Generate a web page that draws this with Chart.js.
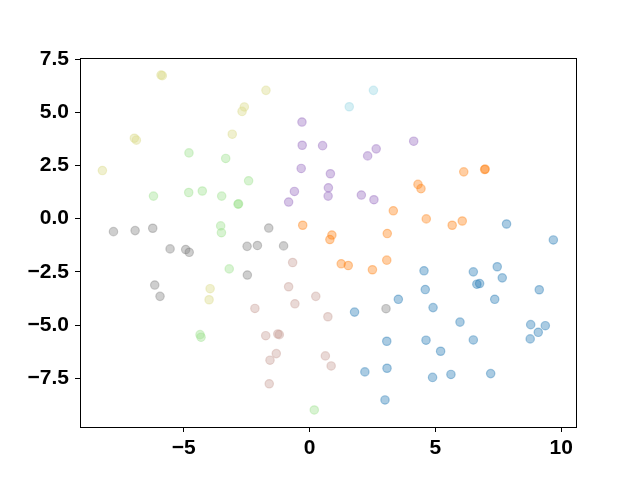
<!DOCTYPE html>
<html>
<head>
<meta charset="utf-8">
<script src="https://cdn.jsdelivr.net/npm/chart.js@4.4.1/dist/chart.umd.min.js"></script>
<style>
  html, body { margin: 0; padding: 0; background: #fff; }
  #wrap { width: 640px; height: 480px; }
</style>
</head>
<body>
<div id="wrap"><canvas id="chart" width="640" height="480"></canvas></div>
<script>
// Tick labels
const xTicks = [-5, 0, 5, 10];
const yTicks = [-7.5, -5, -2.5, 0, 2.5, 5, 7.5];

// Points, one array per colour group: [x, y]
const bluePts = [
    [7.83, -0.25], [9.69, -1.0], [4.55, -2.45], [6.51, -2.5], [7.46, -2.26], [7.66, -2.78],
    [6.65, -3.08], [6.76, -3.05], [4.6, -3.33], [9.13, -3.34], [7.36, -3.79], [3.53, -3.79],
    [1.79, -4.39], [4.91, -4.18], [5.98, -4.86], [8.79, -4.98], [9.37, -5.03], [9.09, -5.34],
    [8.77, -5.65], [4.63, -5.71], [6.51, -5.7], [3.07, -5.76], [5.21, -6.23], [2.2, -7.2],
    [3.08, -7.03], [4.89, -7.46], [5.62, -7.32], [7.2, -7.28], [3.0, -8.52]
];
const orangePts = [
    [-0.27, -0.31], [6.13, 2.2], [6.96, 2.31], [6.98, 2.33], [4.31, 1.61], [4.43, 1.41],
    [3.33, 0.37], [4.64, -0.01], [5.67, -0.31], [6.07, -0.11], [0.89, -0.77], [0.81, -0.98],
    [3.09, -0.70], [1.26, -2.12], [1.54, -2.2], [2.5, -2.4], [3.07, -1.95]
];
const purplePts = [
    [-0.3, 4.54], [-0.29, 3.45], [0.52, 3.43], [-0.33, 2.36], [-0.6, 1.28], [-0.83, 0.78],
    [0.83, 2.11], [0.75, 1.45], [0.74, 1.06], [2.06, 1.11], [2.56, 0.89], [2.31, 2.95],
    [2.65, 3.28], [4.14, 3.64]
];
const greyPts = [
    [-7.79, -0.61], [-6.93, -0.56], [-6.23, -0.45], [-1.62, -0.44], [-5.54, -1.42], [-4.92, -1.45],
    [-4.78, -1.58], [-2.48, -1.30], [-2.07, -1.26], [-1.03, -1.28], [-2.47, -2.65], [-6.15, -3.12],
    [-5.94, -3.65], [3.04, -4.23]
];
const brownPts = [
    [-0.67, -2.06], [-0.83, -3.2], [0.25, -3.65], [-0.58, -4.0], [-2.17, -4.22], [0.73, -4.61],
    [-1.74, -5.5], [-1.26, -5.42], [-1.2, -5.45], [-1.32, -6.34], [-1.57, -6.65], [0.63, -6.45],
    [0.86, -6.92], [-1.6, -7.76]
];
const greenPts = [
    [-4.79, 3.09], [-3.33, 2.83], [-2.42, 1.78], [-6.2, 1.06], [-4.8, 1.23], [-4.26, 1.30],
    [-3.49, 1.06], [-2.84, 0.68], [-2.82, 0.70], [-3.53, -0.34], [-3.5, -0.66], [-3.19, -2.36],
    [-4.35, -5.45], [-4.31, -5.57], [0.19, -8.99]
];
const olivePts = [
    [-5.9, 6.75], [-5.85, 6.72], [-1.73, 6.03], [-2.59, 5.25], [-2.68, 5.04], [-3.07, 3.97],
    [-6.96, 3.78], [-6.88, 3.69], [-8.23, 2.26], [-3.95, -3.29], [-3.99, -3.81]
];
const cyanPts = [[1.58, 5.26], [2.54, 6.03]];

const groups = [
    { pts: bluePts, color: 'rgba(31,119,180,0.38)' },
    { pts: orangePts, color: 'rgba(255,127,14,0.38)' },
    { pts: purplePts, color: 'rgba(148,103,189,0.38)' },
    { pts: greyPts, color: 'rgba(127,127,127,0.38)' },
    { pts: brownPts, color: 'rgba(196,156,148,0.38)' },
    { pts: greenPts, color: 'rgba(152,223,138,0.38)' },
    { pts: olivePts, color: 'rgba(219,219,141,0.42)' },
    { pts: cyanPts, color: 'rgba(158,218,229,0.42)' }
];

// minus sign like matplotlib
function fmt(v, digits) {
    const s = Math.abs(v).toFixed(digits);
    return v < 0 ? '\u2212' + s : s;
}

// draws the top and right spines too
const frame = {
    id: 'frame',
    afterDatasetsDraw(chart) {
        const a = chart.chartArea;
        const ctx = chart.ctx;
        ctx.save();
        ctx.strokeStyle = '#000';
        ctx.lineWidth = 1;
        ctx.strokeRect(a.left + 0.5, a.top + 0.5, a.right - a.left, a.bottom - a.top);
        ctx.restore();
    }
};

const tickFont = { family: '"Liberation Sans", Arial, sans-serif', size: 21, weight: 'bold' };

new Chart(document.getElementById('chart'), {
    type: 'scatter',
    data: {
        datasets: groups.map(g => ({
            data: g.pts.map(p => ({ x: p[0], y: p[1] })),
            backgroundColor: g.color,
            borderColor: g.color,
            borderWidth: 1.2,
            pointRadius: 4.2,
            pointHoverRadius: 4.2
        }))
    },
    options: {
        responsive: false,
        animation: false,
        layout: { padding: { top: 58, right: 64, left: 0, bottom: 0 } },
        plugins: { legend: { display: false }, tooltip: { enabled: false } },
        scales: {
            x: {
                type: 'linear',
                min: -9.12,
                max: 10.59,
                afterBuildTicks: s => { s.ticks = xTicks.map(v => ({ value: v })); },
                afterFit: s => { s.height = 53; },
                grid: { display: true, drawOnChartArea: false, drawTicks: true, tickLength: 5, color: '#000' },
                border: { display: true, color: '#000', width: 1 },
                ticks: { color: '#000', font: tickFont, padding: 4, maxRotation: 0, callback: v => fmt(v, 0) }
            },
            y: {
                type: 'linear',
                min: -9.79,
                max: 7.55,
                afterBuildTicks: s => { s.ticks = yTicks.map(v => ({ value: v })); },
                afterFit: s => { s.width = 80; },
                grid: { display: true, drawOnChartArea: false, drawTicks: true, tickLength: 5, color: '#000' },
                border: { display: true, color: '#000', width: 1 },
                ticks: { color: '#000', font: tickFont, padding: 6, callback: v => fmt(v, 1) }
            }
        }
    },
    plugins: [frame]
});
</script>
</body>
</html>
